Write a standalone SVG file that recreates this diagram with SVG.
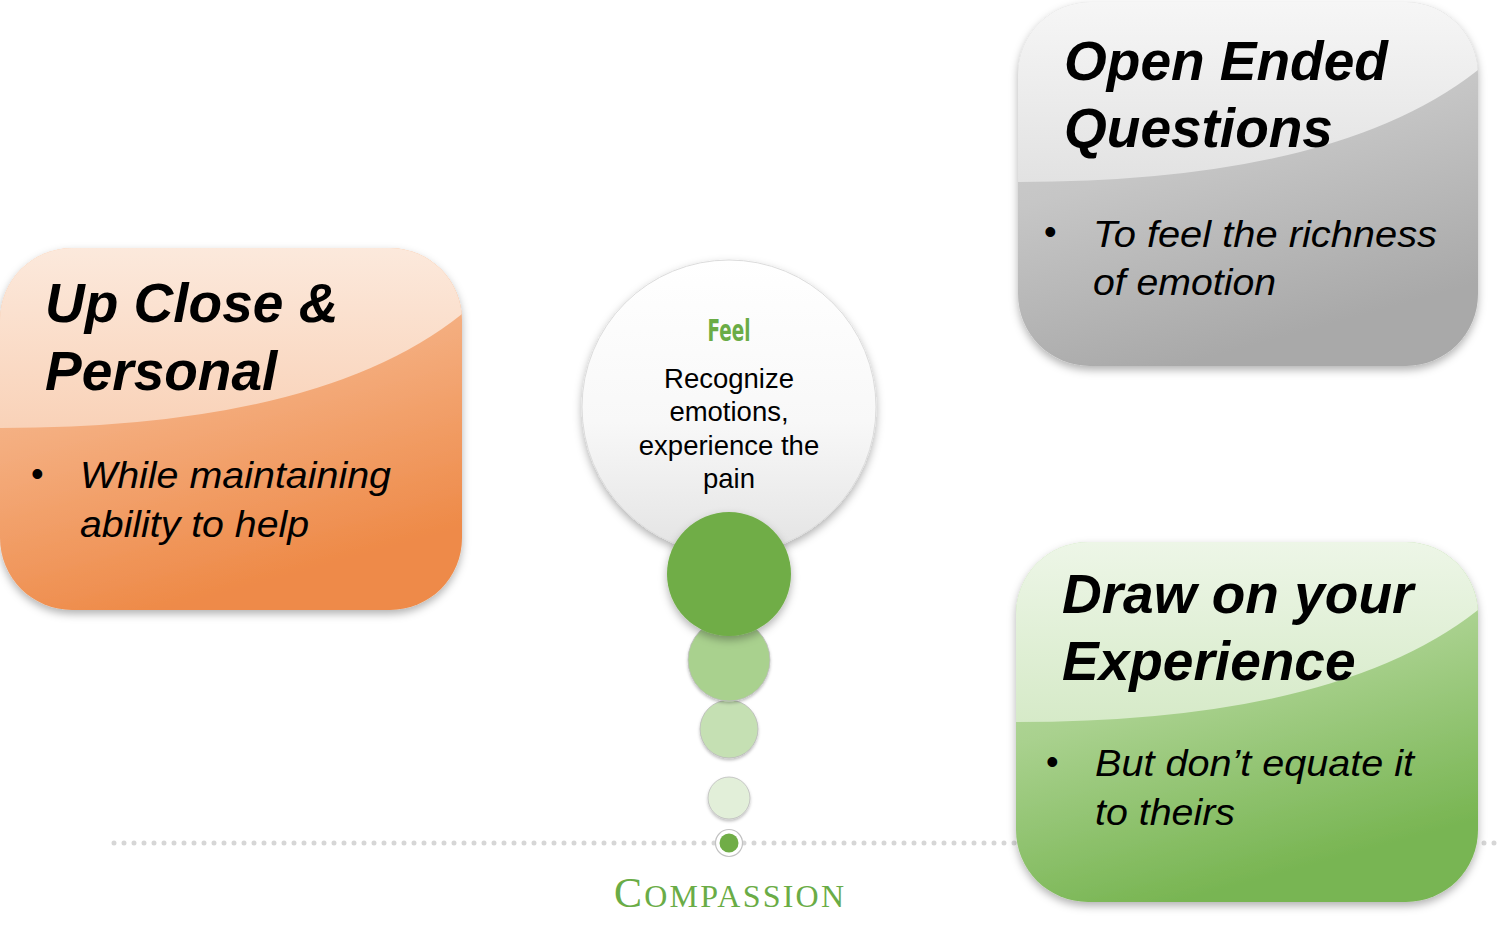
<svg xmlns="http://www.w3.org/2000/svg" width="1500" height="940" viewBox="0 0 1500 940">
<defs>
<linearGradient id="gOr" x1="0" y1="0" x2="0.35" y2="1"><stop offset="0" stop-color="#f9c9a8"/><stop offset="0.5" stop-color="#f4ad7e"/><stop offset="1" stop-color="#ee8a48"/></linearGradient>
<linearGradient id="gOrH" x1="0" y1="0" x2="0" y2="1"><stop offset="0" stop-color="#fce9dc"/><stop offset="1" stop-color="#f9d2b8"/></linearGradient>
<linearGradient id="gGr" x1="0" y1="0" x2="0.35" y2="1"><stop offset="0" stop-color="#d4d4d4"/><stop offset="0.5" stop-color="#c6c6c6"/><stop offset="1" stop-color="#a9a9a9"/></linearGradient>
<linearGradient id="gGrH" x1="0" y1="0" x2="0" y2="1"><stop offset="0" stop-color="#f6f6f6"/><stop offset="1" stop-color="#e2e2e2"/></linearGradient>
<linearGradient id="gGn" x1="0" y1="0" x2="0.35" y2="1"><stop offset="0" stop-color="#c6e3b4"/><stop offset="0.5" stop-color="#a9d18e"/><stop offset="1" stop-color="#78b552"/></linearGradient>
<linearGradient id="gGnH" x1="0" y1="0" x2="0" y2="1"><stop offset="0" stop-color="#edf6e7"/><stop offset="1" stop-color="#d6eac8"/></linearGradient>
<linearGradient id="gCirc" x1="0" y1="0" x2="0" y2="1"><stop offset="0" stop-color="#ffffff"/><stop offset="0.55" stop-color="#f8f8f8"/><stop offset="1" stop-color="#e3e3e3"/></linearGradient>
<filter id="sh" x="-20%" y="-20%" width="140%" height="140%"><feDropShadow dx="0" dy="4" stdDeviation="4" flood-color="#000" flood-opacity="0.3"/></filter>
<filter id="shs" x="-20%" y="-20%" width="140%" height="140%"><feDropShadow dx="0" dy="2" stdDeviation="1.5" flood-color="#000" flood-opacity="0.25"/></filter>
<clipPath id="cOr"><rect x="0" y="248" width="462" height="362" rx="72"/></clipPath>
<clipPath id="cGr"><rect x="1018" y="2" width="460" height="364" rx="72"/></clipPath>
<clipPath id="cGn"><rect x="1016" y="542" width="462" height="360" rx="72"/></clipPath>
</defs>
<style>
.t{font-family:"Liberation Sans",Arial,sans-serif;font-weight:bold;font-style:italic;font-size:55px;fill:#000}
.b{font-family:"Liberation Sans",Arial,sans-serif;font-style:italic;font-size:37px;fill:#000}
.d{font-family:"Liberation Sans",Arial,sans-serif;font-size:36px;fill:#000}
.c{font-family:"Liberation Sans",Arial,sans-serif;font-size:27.5px;fill:#000;text-anchor:middle}
</style>
<rect width="1500" height="940" fill="#ffffff"/>
<g id="connectors">
<line x1="114" y1="843" x2="1500" y2="843" stroke="#d6d6d6" stroke-width="5" stroke-linecap="round" stroke-dasharray="0 10"/>
</g>
<g id="node-upclose">
<rect x="0" y="248" width="462" height="362" rx="72" fill="url(#gOr)" filter="url(#sh)"/>
<path d="M0,248 H462 V314 Q320,428 0,428 Z" fill="url(#gOrH)" clip-path="url(#cOr)"/>
<text class="t" x="45" y="322">Up Close &amp;</text>
<text class="t" x="45" y="390">Personal</text>
<text class="d" x="31" y="486">•</text>
<text class="b" x="80" y="488" textLength="311" lengthAdjust="spacingAndGlyphs">While maintaining</text>
<text class="b" x="80" y="537" textLength="229" lengthAdjust="spacingAndGlyphs">ability to help</text>
</g>
<g id="node-openended">
<rect x="1018" y="2" width="460" height="364" rx="72" fill="url(#gGr)" filter="url(#sh)"/>
<path d="M1018,2 H1478 V70 Q1336,182 1018,182 Z" fill="url(#gGrH)" clip-path="url(#cGr)"/>
<text class="t" x="1064" y="80">Open Ended</text>
<text class="t" x="1064" y="147">Questions</text>
<text class="d" x="1044" y="244">•</text>
<text class="b" x="1093" y="247" textLength="344" lengthAdjust="spacingAndGlyphs">To feel the richness</text>
<text class="b" x="1093" y="295" textLength="183" lengthAdjust="spacingAndGlyphs">of emotion</text>
</g>
<g id="node-drawon">
<rect x="1016" y="542" width="462" height="360" rx="72" fill="url(#gGn)" filter="url(#sh)"/>
<path d="M1016,542 H1478 V610 Q1336,722 1016,722 Z" fill="url(#gGnH)" clip-path="url(#cGn)"/>
<text class="t" x="1062" y="613">Draw on your</text>
<text class="t" x="1062" y="680">Experience</text>
<text class="d" x="1046" y="774">•</text>
<text class="b" x="1095" y="776" textLength="319" lengthAdjust="spacingAndGlyphs">But don’t equate it</text>
<text class="b" x="1095" y="825" textLength="140" lengthAdjust="spacingAndGlyphs">to theirs</text>
</g>
<g id="node-feel">
<circle cx="729" cy="407" r="147" fill="url(#gCirc)" stroke="#dcdcdc" stroke-width="1" filter="url(#sh)"/>
<text x="729" y="341" text-anchor="middle" font-family="'Liberation Sans Narrow','DejaVu Sans Condensed',sans-serif" font-weight="bold" font-size="30" fill="#6aac46" textLength="43" lengthAdjust="spacingAndGlyphs">Feel</text>
<text class="c" x="729" y="388">Recognize</text>
<text class="c" x="729" y="421">emotions,</text>
<text class="c" x="729" y="455">experience the</text>
<text class="c" x="729" y="488">pain</text>
</g>
<g id="node-bubbles">
<circle cx="729" cy="729" r="29" fill="#c5e0b3" stroke="#b9b9b9" stroke-width="0.8" filter="url(#shs)"/>
<circle cx="729" cy="798" r="21" fill="#e2efd9" stroke="#bdbdbd" stroke-width="0.8" filter="url(#shs)"/>
<circle cx="729" cy="660" r="41" fill="#a9d18e" stroke="#bcbcbc" stroke-width="0.8" filter="url(#shs)"/>
<circle cx="729" cy="574" r="62" fill="#70ad47" filter="url(#sh)"/>
<circle cx="729" cy="843" r="13.5" fill="#ffffff" stroke="#c2c2c2" stroke-width="1.2"/>
<circle cx="729" cy="843" r="9.5" fill="#70ad47"/>
</g>
<g id="label-compassion">
<text x="729" y="907" text-anchor="middle" font-family="'Liberation Serif','Times New Roman',serif" fill="#6aac46" textLength="230" lengthAdjust="spacing"><tspan font-size="42">C</tspan><tspan font-size="32">OMPASSION</tspan></text>
</g>
</svg>
